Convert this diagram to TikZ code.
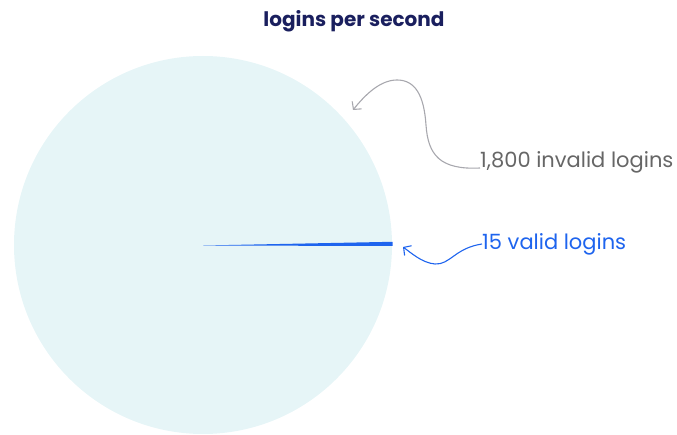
\documentclass[tikz,border=0pt]{standalone}
\usepackage{fontspec}
\setmainfont{Poppins}
\usetikzlibrary{arrows.meta}
\definecolor{piefill}{HTML}{E6F5F7}
\definecolor{validblue}{HTML}{1E64EE}
\definecolor{navy}{HTML}{1A1F5E}
\definecolor{greytext}{HTML}{666666}
\definecolor{greyline}{HTML}{A8A8AE}
\tikzset{
  lbl/.style={inner sep=0pt, anchor=base west, font=\fontsize{21}{24}\selectfont},
  callout/.style={line width=1.1pt, -{Straight Barb[length=5.5pt,width=12pt]}},
}
\begin{document}
\begin{tikzpicture}[x=1pt,y=-1pt]
\useasboundingbox (0,0) rectangle (677,435);
\node[circle, fill=piefill, minimum size=378pt, inner sep=0pt] (pie) at (203,245) {};
\fill[validblue] (203,245.5) -- (392.5,246) -- (392.5,241.8) -- cycle;
\node[font=\fontsize{20}{24}\selectfont\bfseries, text=navy, inner sep=0pt] (title) at (354,21) {logins per second};
\node[lbl, text=greytext] (invalid) at (480,168) {1,800 invalid logins};
\node[lbl, text=validblue] (valid) at (482,250) {15 valid logins};
\coordinate (invtip) at (353,110);
\coordinate (valtip) at (403,247);
\draw[callout, greyline] (invalid.west |- 0,168) .. controls (440,170) and (428,155) .. (426,125) .. controls (424,95) and (415,80) .. (397,80) .. controls (380,80) and (365,95) .. (invtip);
\draw[callout, validblue] (valid.west |- 0,244) .. controls (455,248) and (450,265) .. (435,264) .. controls (422,263) and (410,252) .. (valtip);
\end{tikzpicture}
\end{document}
